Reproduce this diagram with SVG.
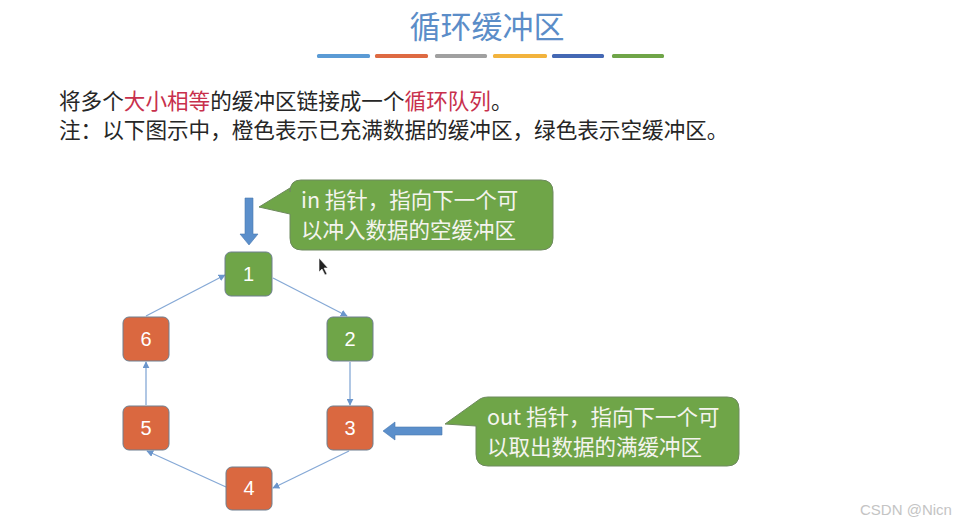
<svg xmlns="http://www.w3.org/2000/svg" width="971" height="530" viewBox="0 0 971 530">
<defs>
<style>
.title{font-family:"Noto Sans CJK SC","Noto Sans",sans-serif;font-size:31px;fill:#5B8DC8;}
.body{font-family:"Noto Sans CJK SC",sans-serif;font-size:21.6px;fill:#262626;}
.red{fill:#C8304C;}
.node rect{stroke:#6E7F8F;stroke-width:1;}
.green{fill:#6FA548;}
.orange{fill:#DA6840;}
.num{font-family:"Liberation Sans","Noto Sans",sans-serif;font-size:20px;fill:#FFFFFF;text-anchor:middle;}
.conn{stroke:#86A9D6;stroke-width:1.3;fill:none;marker-end:url(#ah);}
.callout{fill:#6FA548;stroke:#6E8A5E;stroke-width:1;}
.ctext{font-family:"Noto Sans CJK SC",sans-serif;font-size:21.5px;fill:#F4F4EE;}
.barr{fill:#5B8FCB;stroke:#4A78B0;stroke-width:0.6;}
</style>
<marker id="ah" viewBox="0 0 10 10" refX="9" refY="5" markerWidth="7" markerHeight="7" orient="auto" markerUnits="userSpaceOnUse">
<path d="M0,0 L10,5 L0,10 z" fill="#6B96CC"/>
</marker>
</defs>
<rect width="971" height="530" fill="#FFFFFF"/>

<g id="title">
<text class="title" x="487" y="38" text-anchor="middle">循环缓冲区</text>
<rect x="317" y="54" width="53" height="4" rx="1.5" fill="#5B9BD5"/>
<rect x="375" y="54" width="53" height="4" rx="1.5" fill="#DE6A42"/>
<rect x="435" y="54" width="52" height="4" rx="1.5" fill="#A0A0A0"/>
<rect x="493" y="54" width="54" height="4" rx="1.5" fill="#F2B33D"/>
<rect x="552" y="54" width="52" height="4" rx="1.5" fill="#4468B4"/>
<rect x="612" y="54" width="52" height="4" rx="1.5" fill="#6FA548"/>
</g>

<g id="description">
<text class="body" x="59" y="109">将多个<tspan class="red">大小相等</tspan>的缓冲区链接成一个<tspan class="red">循环队列</tspan>。</text>
<text class="body" x="59" y="138">注：以下图示中，橙色表示已充满数据的缓冲区，绿色表示空缓冲区。</text>
</g>

<g id="connectors">
<line class="conn" x1="273" y1="278" x2="347" y2="316"/>
<line class="conn" x1="350" y1="362" x2="350" y2="405"/>
<line class="conn" x1="349" y1="451" x2="273" y2="488"/>
<line class="conn" x1="226" y1="487" x2="147" y2="451"/>
<line class="conn" x1="146" y1="405" x2="146" y2="362"/>
<line class="conn" x1="146" y1="316" x2="225" y2="275"/>
</g>

<g id="node1" class="node"><rect class="green" x="225" y="252" width="47" height="44" rx="6"/><text class="num" x="248.5" y="281">1</text></g>
<g id="node2" class="node"><rect class="green" x="327" y="317" width="46" height="44" rx="6"/><text class="num" x="350" y="346">2</text></g>
<g id="node3" class="node"><rect class="orange" x="327" y="406" width="46" height="44" rx="6"/><text class="num" x="350" y="435">3</text></g>
<g id="node4" class="node"><rect class="orange" x="226" y="467" width="46" height="43" rx="6"/><text class="num" x="249" y="495">4</text></g>
<g id="node5" class="node"><rect class="orange" x="123" y="406" width="46" height="44" rx="6"/><text class="num" x="146" y="435">5</text></g>
<g id="node6" class="node"><rect class="orange" x="123" y="317" width="46" height="44" rx="6"/><text class="num" x="146" y="346">6</text></g>

<g id="in-pointer">
<path class="barr" d="M245,198 H253 V234 H258 L249,245 L240,234 H245 Z"/>
</g>
<g id="out-pointer">
<path class="barr" d="M442,427 V435 H395 V440 L383,431 L395,422 V427 Z"/>
</g>

<g id="in-callout">
<path class="callout" d="M301,180 H541 Q553,180 553,192 V238 Q553,250 541,250 H302 Q290,250 290,238 V214 L259,207 L290,188 V192 Q290,180 301,180 Z"/>
<text class="ctext" x="301" y="208">in 指针，指向下一个可</text>
<text class="ctext" x="301" y="238">以冲入数据的空缓冲区</text>
</g>

<g id="out-callout">
<path class="callout" d="M488,397 H727 Q739,397 739,409 V454 Q739,466 727,466 H488 Q476,466 476,454 V426 L445,424 L480,399 Q483,397 488,397 Z"/>
<text class="ctext" x="487" y="425">out 指针，指向下一个可</text>
<text class="ctext" x="487" y="455">以取出数据的满缓冲区</text>
</g>

<g id="cursor">
<path d="M319,258 L319,272 L322,269 L325,275 L327,274 L324,268 L328,268 Z" fill="#222222" stroke="#FFFFFF" stroke-width="0.6"/>
</g>

<g id="watermark">
<text x="860" y="515" font-family="'Liberation Sans',sans-serif" font-size="15" fill="#C4C4C4">CSDN @Nicn</text>
</g>
</svg>
